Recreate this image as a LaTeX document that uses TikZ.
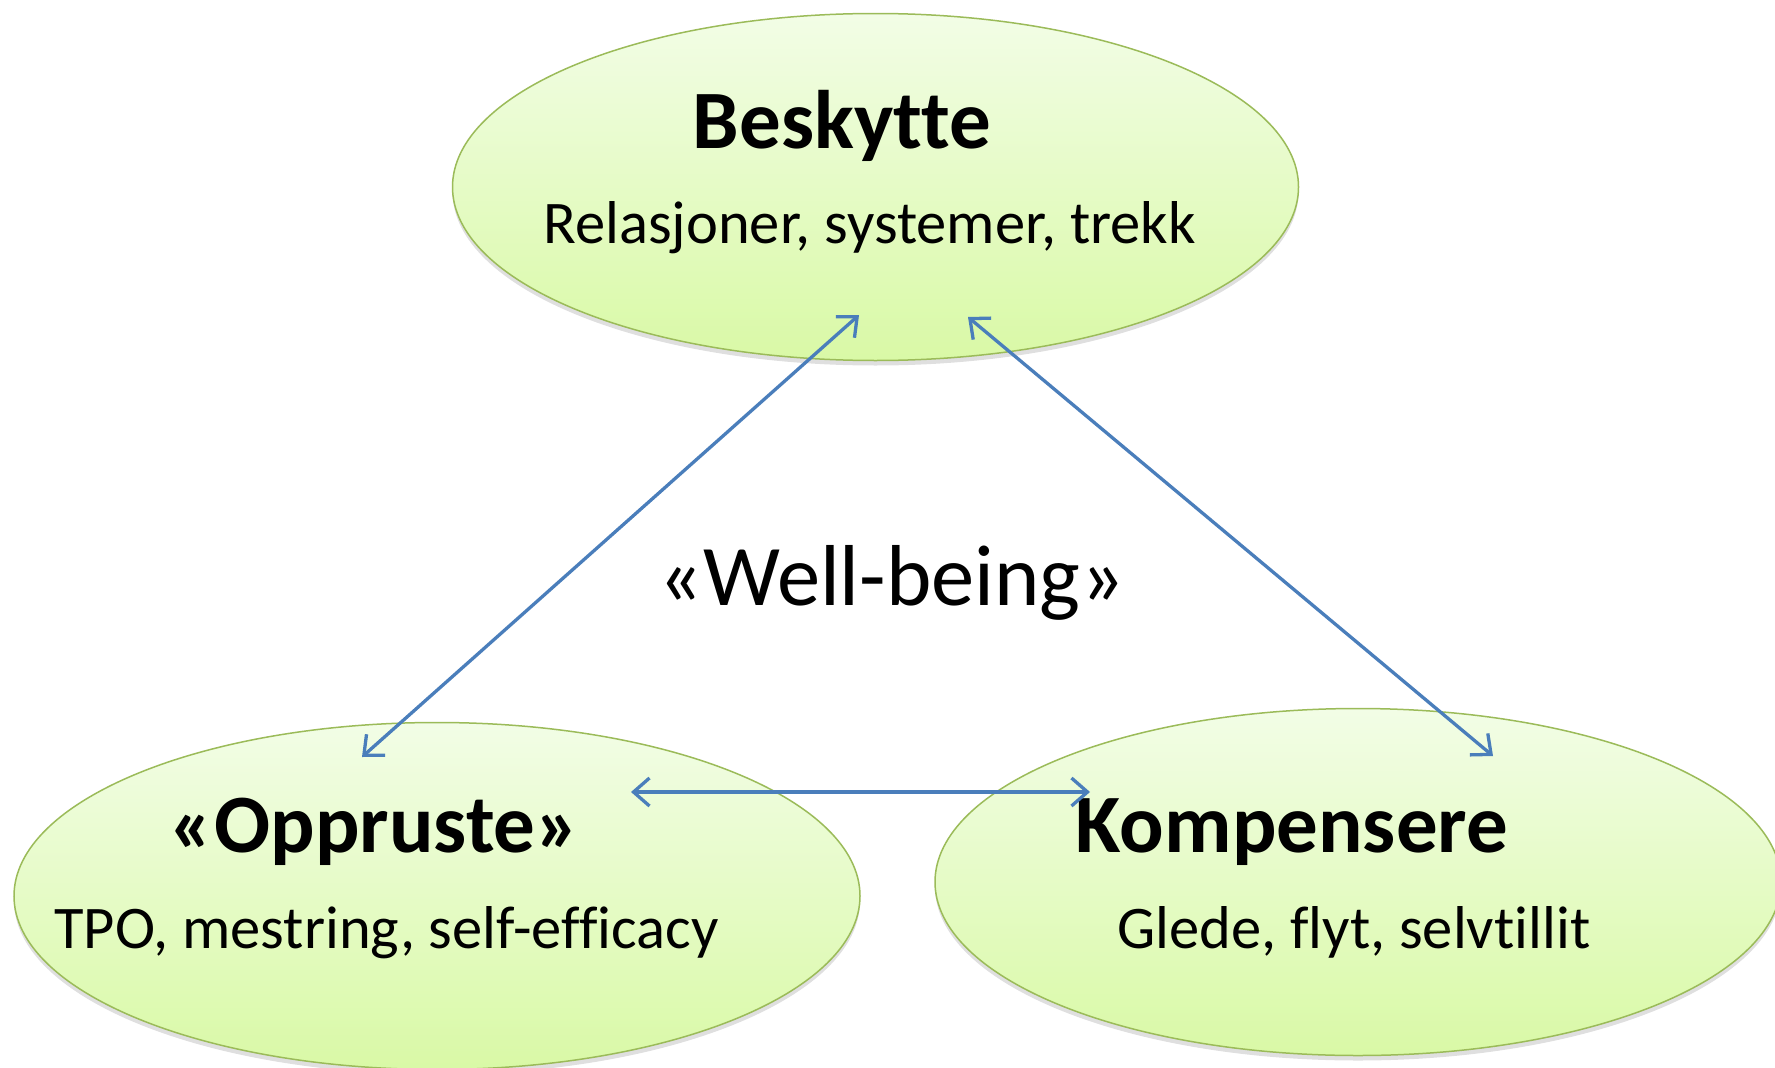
\documentclass[tikz,border=0pt]{standalone}
\usepackage{fontspec}
\setmainfont{Carlito}[Ligatures=NoCommon]
\usetikzlibrary{shapes.geometric,arrows.meta,shadows}
\definecolor{ellTop}{HTML}{F2FDE6}
\definecolor{ellBot}{HTML}{D9F9A6}
\definecolor{ellLine}{HTML}{9BBB59}
\definecolor{arrBlue}{HTML}{4A7EBB}
\tikzset{
 bubble/.style={ellipse, draw=ellLine, line width=1.5pt, top color=ellTop, bottom color=ellBot,
   minimum width=846pt, minimum height=347pt, inner sep=0pt,
   drop shadow={shadow xshift=0pt, shadow yshift=-5pt, opacity=0.25}},
 ttl/.style={anchor=base, font=\fontsize{83}{90}\selectfont\bfseries},
 subtxt/.style={anchor=base, font=\fontsize{60.5}{66}\selectfont},
 link/.style={draw=arrBlue, line width=3.3pt,
   {Straight Barb[length=16pt,width=28pt]}-{Straight Barb[length=16pt,width=28pt]}}
}
\begin{document}
\begin{tikzpicture}[x=1pt,y=-1pt]
\useasboundingbox (0,0) rectangle (1775,1068);
\clip (0,0) rectangle (1775,1068);
% ellipses
\node[bubble] (eB) at (875.5,187) {};
\node[bubble] (eO) at (437,896) {};
\node[bubble] (eK) at (1358,882) {};
% texts
\node[ttl] (tB) at (842,148) {Beskytte};
\node[subtxt] (sB) at (869.5,243) {Relasjoner, systemer, trekk};
\node[ttl] (tO) at (375,852) {«Oppruste»};
\node[subtxt] (sO) at (386.5,948) {TPO, mestring, self-efficacy};
\node[ttl] (tK) at (1292,852) {Kompensere};
\node[subtxt] (sK) at (1354,948) {Glede, flyt, selvtillit};
\node[anchor=base, font=\fontsize{86.5}{94}\selectfont] (wb) at (892,605) {«Well-being»};
% arrow end points
\coordinate (aB1) at (859,315);
\coordinate (aO1) at (362,757);
\coordinate (aB2) at (968,317);
\coordinate (aK1) at (1493,756);
\coordinate (aO2) at (631,792);
\coordinate (aK2) at (1090,792);
\draw[link] (aB1) -- (aO1);
\draw[link] (aB2) -- (aK1);
\draw[link] (aO2) -- (aK2);
\end{tikzpicture}
\end{document}
